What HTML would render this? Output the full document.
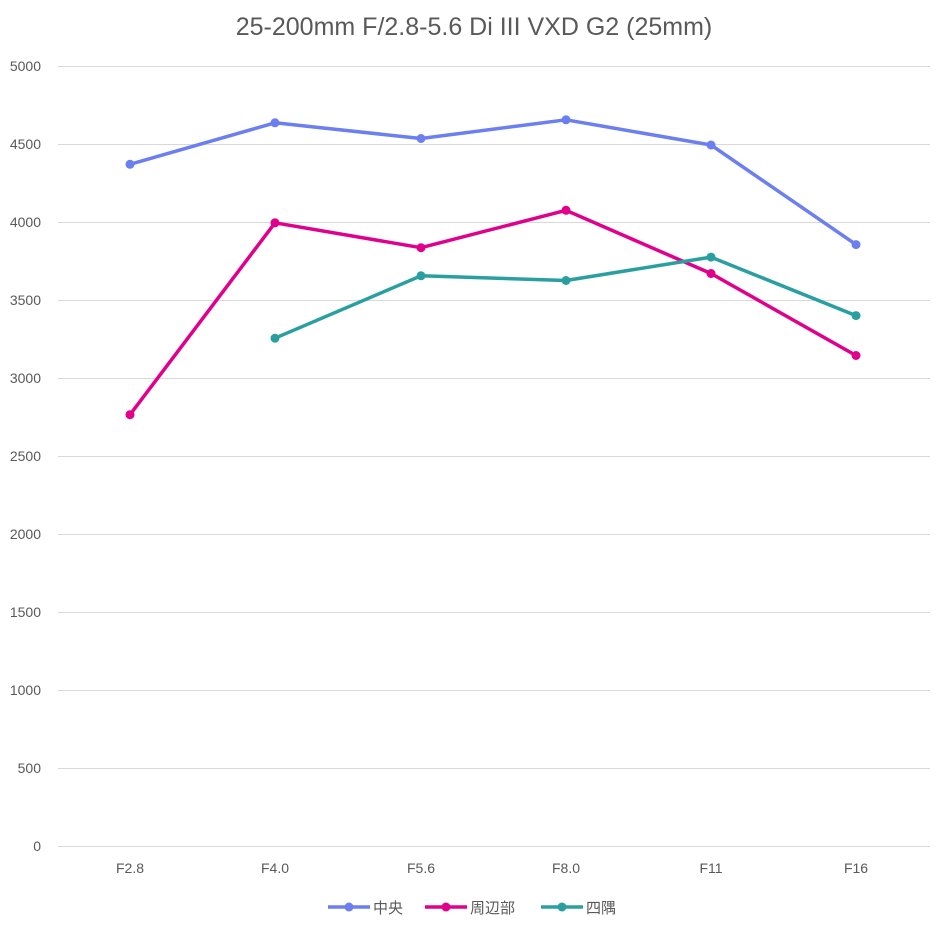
<!DOCTYPE html>
<html><head><meta charset="utf-8"><style>
html,body{margin:0;padding:0;background:#fff;}
svg text{font-family:"Liberation Sans","Noto Sans CJK JP",sans-serif;fill:#595959;}
</style></head><body>
<svg width="943" height="930" xmlns="http://www.w3.org/2000/svg">
<rect width="943" height="930" fill="#fff"/>
<text x="474" y="35" font-size="25" text-anchor="middle">25-200mm F/2.8-5.6 Di III VXD G2 (25mm)</text>
<g stroke="#d9d9d9" stroke-width="1">
<line x1="58" x2="930" y1="66.5" y2="66.5"/>
<line x1="58" x2="930" y1="144.5" y2="144.5"/>
<line x1="58" x2="930" y1="222.5" y2="222.5"/>
<line x1="58" x2="930" y1="300.5" y2="300.5"/>
<line x1="58" x2="930" y1="378.5" y2="378.5"/>
<line x1="58" x2="930" y1="456.5" y2="456.5"/>
<line x1="58" x2="930" y1="534.5" y2="534.5"/>
<line x1="58" x2="930" y1="612.5" y2="612.5"/>
<line x1="58" x2="930" y1="690.5" y2="690.5"/>
<line x1="58" x2="930" y1="768.5" y2="768.5"/>
<line x1="58" x2="930" y1="846.5" y2="846.5"/>
</g>
<g font-size="14" text-anchor="end">
<text x="41" y="71">5000</text><text x="41" y="149">4500</text><text x="41" y="227">4000</text>
<text x="41" y="305">3500</text><text x="41" y="383">3000</text><text x="41" y="461">2500</text>
<text x="41" y="539">2000</text><text x="41" y="617">1500</text><text x="41" y="695">1000</text>
<text x="41" y="773">500</text><text x="41" y="851">0</text>
</g>
<g font-size="14" text-anchor="middle">
<text x="130" y="873">F2.8</text><text x="275" y="873">F4.0</text><text x="421" y="873">F5.6</text>
<text x="566" y="873">F8.0</text><text x="711" y="873">F11</text><text x="856" y="873">F16</text>
</g>
<g fill="none" stroke-width="3.5" stroke-linejoin="round">
<polyline stroke="#6b7ff0" points="130,164.3 275,122.8 421,138.5 566,119.8 711,145 856,244.6"/>
<polyline stroke="#e0008c" points="130,414.7 275,222.8 421,247.7 566,210.3 711,273.5 856,355.5"/>
<polyline stroke="#2a9fa0" points="275,338.2 421,275.8 566,280.5 711,257.1 856,315.6"/>
</g>
<g fill="#6b7ff0"><circle cx="130" cy="164.3" r="4.5"/><circle cx="275" cy="122.8" r="4.5"/><circle cx="421" cy="138.5" r="4.5"/><circle cx="566" cy="119.8" r="4.5"/><circle cx="711" cy="145" r="4.5"/><circle cx="856" cy="244.6" r="4.5"/></g>
<g fill="#e0008c"><circle cx="130" cy="414.7" r="4.5"/><circle cx="275" cy="222.8" r="4.5"/><circle cx="421" cy="247.7" r="4.5"/><circle cx="566" cy="210.3" r="4.5"/><circle cx="711" cy="273.5" r="4.5"/><circle cx="856" cy="355.5" r="4.5"/></g>
<g fill="#2a9fa0"><circle cx="275" cy="338.2" r="4.5"/><circle cx="421" cy="275.8" r="4.5"/><circle cx="566" cy="280.5" r="4.5"/><circle cx="711" cy="257.1" r="4.5"/><circle cx="856" cy="315.6" r="4.5"/></g>
<g stroke-width="3.5">
<line x1="328" x2="370" y1="907" y2="907" stroke="#6b7ff0"/><circle cx="349" cy="907" r="4.5" fill="#6b7ff0"/>
<line x1="425" x2="467" y1="907" y2="907" stroke="#e0008c"/><circle cx="446" cy="907" r="4.5" fill="#e0008c"/>
<line x1="541" x2="583" y1="907" y2="907" stroke="#2a9fa0"/><circle cx="562" cy="907" r="4.5" fill="#2a9fa0"/>
</g>
<g font-size="15">
<text x="373" y="913">中央</text><text x="470" y="913">周辺部</text><text x="586" y="913">四隅</text>
</g>
</svg>
</body></html>
